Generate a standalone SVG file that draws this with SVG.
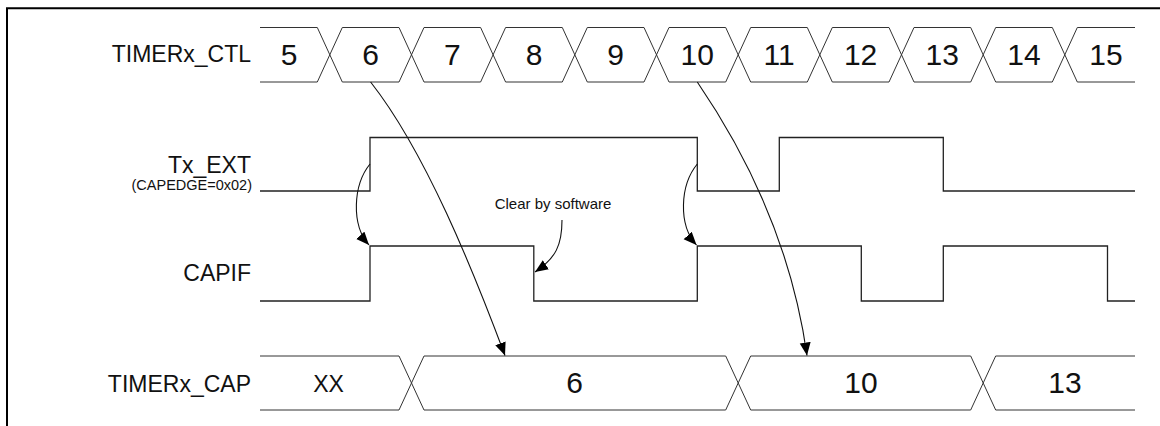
<svg xmlns="http://www.w3.org/2000/svg" width="1160" height="426" viewBox="0 0 1160 426">
  <style>
    .lbl { font-family: "Liberation Sans", Arial, sans-serif; font-size: 23px; fill: #111; text-anchor: end; }
    .sub { font-family: "Liberation Sans", Arial, sans-serif; font-size: 14.5px; fill: #111; text-anchor: end; }
    .val { font-family: "Liberation Sans", Arial, sans-serif; font-size: 30px; fill: #111; text-anchor: middle; }
    .valsm { font-family: "Liberation Sans", Arial, sans-serif; font-size: 23px; fill: #111; text-anchor: middle; }
    .note { font-family: "Liberation Sans", Arial, sans-serif; font-size: 15px; fill: #111; text-anchor: middle; }
    .bus { fill: none; stroke: #333; stroke-width: 1; }
    .wave { fill: none; stroke: #222; stroke-width: 1.3; }
    .conn { fill: none; stroke: #111; stroke-width: 1.1; }
    .frame { fill: none; stroke: #000; stroke-width: 2; }
  </style>
  <defs>
    <marker id="arrow" markerUnits="userSpaceOnUse" markerWidth="14" markerHeight="12" refX="13" refY="5.5" orient="auto">
      <path d="M0,0 L13,5.5 L0,11 Z" fill="#000"/>
    </marker>
  </defs>
  <rect width="1160" height="426" fill="#fff"/>
  <g id="frame">
    <path class="frame" d="M7,426 V8.3 H1160"/>
  </g>

  <g id="timer-ctl">
    <text class="lbl" x="251" y="62">TIMERx_CTL</text>
    <path class="bus" d="M260,27.5 H317.3 L342.3,82 H399 L424,27.5 H480.6 L505.6,82 H562.3 L587.3,27.5 H644 L669,82 H725.7 L750.7,27.5 H807.3 L832.3,82 H889 L914,27.5 H970.7 L995.7,82 H1052.3 L1077.3,27.5 H1135"/>
    <path class="bus" d="M260,82 H317.3 L342.3,27.5 H399 L424,82 H480.6 L505.6,27.5 H562.3 L587.3,82 H644 L669,27.5 H725.7 L750.7,82 H807.3 L832.3,27.5 H889 L914,82 H970.7 L995.7,27.5 H1052.3 L1077.3,82 H1135"/>
    <text class="val" x="289" y="65">5</text>
    <text class="val" x="370.6" y="65">6</text>
    <text class="val" x="452.3" y="65">7</text>
    <text class="val" x="534" y="65">8</text>
    <text class="val" x="615.6" y="65">9</text>
    <text class="val" x="697.3" y="65">10</text>
    <text class="val" x="779" y="65">11</text>
    <text class="val" x="860.6" y="65">12</text>
    <text class="val" x="942.3" y="65">13</text>
    <text class="val" x="1024" y="65">14</text>
    <text class="val" x="1106" y="65">15</text>
  </g>

  <g id="tx-ext">
    <text class="lbl" x="251" y="172.5">Tx_EXT</text>
    <text class="sub" x="252" y="190.3">(CAPEDGE=0x02)</text>
    <path class="wave" d="M260,191 H370 V137.5 H697.3 V191 H779.3 V137.5 H943.3 V191 H1135"/>
  </g>

  <g id="capif">
    <text class="lbl" x="251" y="280.7">CAPIF</text>
    <path class="wave" d="M260,301 H370 V246 H533.8 V301 H697.3 V246 H861.3 V301 H943.3 V246 H1107.5 V301 H1135"/>
  </g>

  <g id="timer-cap">
    <text class="lbl" x="251" y="392">TIMERx_CAP</text>
    <path class="bus" d="M260,356 H399 L424,410 H725.7 L750.7,356 H970.7 L995.7,410 H1135"/>
    <path class="bus" d="M260,410 H399 L424,356 H725.7 L750.7,410 H970.7 L995.7,356 H1135"/>
    <text class="valsm" x="328.5" y="391.5">XX</text>
    <text class="val" x="574.5" y="392.7">6</text>
    <text class="val" x="861" y="392.7">10</text>
    <text class="val" x="1065" y="392.7">13</text>
  </g>

  <g id="note-clear">
    <text class="note" x="553" y="209">Clear by software</text>
  </g>

  <g id="connectors">
    <path class="conn" d="M370,164 C353,185 351,225 369,245" marker-end="url(#arrow)"/>
    <path class="conn" d="M697.3,164 C680,185 678,225 696.5,245" marker-end="url(#arrow)"/>
    <path class="conn" d="M562,220 C562,245 556,258 535,272" marker-end="url(#arrow)"/>
    <path class="conn" d="M370.6,82 C425.8,152.2 473.5,271.4 505,355.5" marker-end="url(#arrow)"/>
    <path class="conn" d="M697.3,82 C759.6,173.3 794.4,265.9 807,355.5" marker-end="url(#arrow)"/>
  </g>
</svg>
